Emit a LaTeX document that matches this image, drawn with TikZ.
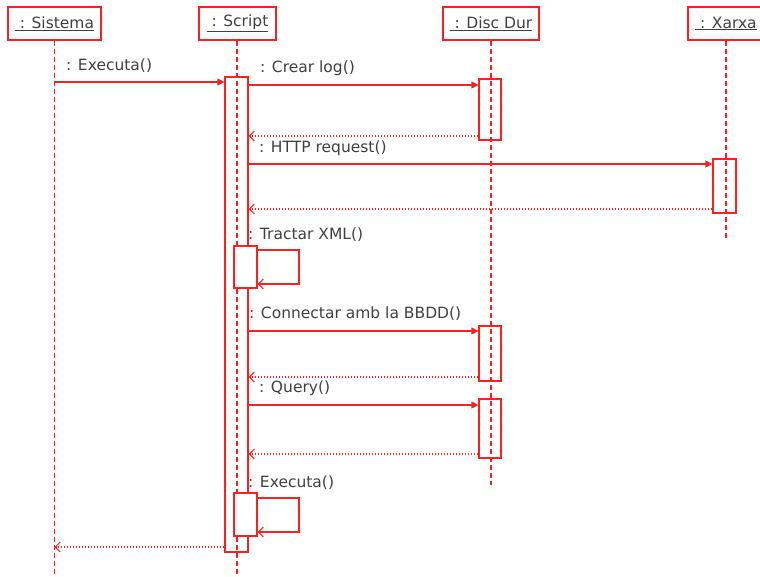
\documentclass[tikz,border=0pt]{standalone}
\usepackage{fontspec}
\setmainfont{DejaVu Sans}
\usetikzlibrary{arrows.meta}
\definecolor{umlred}{RGB}{255,30,30}
\definecolor{umltext}{RGB}{64,64,64}
\begin{document}
\begin{tikzpicture}[x=1pt,y=-1pt,font=\fontsize{15.5}{18}\selectfont,
  obj/.style={draw=umlred,line width=1.2pt,minimum height=33pt,inner sep=0pt,text=umltext},
  life/.style={umlred,line width=1.3pt,dash pattern=on 5pt off 3pt},
  act/.style={draw=umlred,line width=1.2pt,minimum width=23pt,inner sep=0pt},
  call/.style={umlred,line width=1.2pt,-{Triangle[length=7pt,width=7pt]}},
  ret/.style={umlred,line width=1.2pt,dash pattern=on 1.5pt off 1.5pt,-{Straight Barb[length=5pt,width=10pt,line width=1pt]}},
  self/.style={umlred,line width=1.2pt,-{Straight Barb[length=5pt,width=10pt,line width=1pt]}},
  msg/.style={anchor=base west,inner sep=0pt,text=umltext}]
  \useasboundingbox (0,0) rectangle (760,576);
  % objects
  \node[obj,minimum width=93pt](sis) at (54.5,23.5){\underline{~: Sistema}};
  \node[obj,minimum width=77pt](scr) at (237.5,23.5){\underline{~: Script}};
  \node[obj,minimum width=96pt](dd) at (491,23.5){\underline{~: Disc Dur}};
  \node[obj,minimum width=76pt](xa) at (726,23.5){\underline{~: Xarxa}};
  % lifelines
  \coordinate (sisEnd) at (54.5,576);\coordinate (scrEnd) at (237,576);
  \coordinate (ddEnd) at (491,485);\coordinate (xaEnd) at (726,240);
  \draw[life](sis.south)--(sisEnd);\draw[life](scr.south-|scrEnd)--(scrEnd);
  \draw[life](dd.south)--(ddEnd);\draw[life](xa.south)--(xaEnd);
  % activations
  \node[act,minimum height=475pt](scrA) at (236.5,314.5){};
  \node[act,fill=white,minimum height=42pt](scrB) at (245.5,267){};
  \node[act,fill=white,minimum height=43pt](scrC) at (245.5,514.5){};
  \node[act,minimum width=22pt,minimum height=61pt](dd1) at (490,109.5){};
  \node[act,minimum width=22pt,minimum height=55pt](dd2) at (490,353.5){};
  \node[act,minimum width=22pt,minimum height=59pt](dd3) at (490,428.5){};
  \node[act,minimum height=54pt](xa1) at (724.5,186){};
  % message rows
  \coordinate (m1) at (0,82);\coordinate (m2) at (0,85);\coordinate (r2) at (0,136);
  \coordinate (m3) at (0,164);\coordinate (r3) at (0,209);
  \coordinate (m5) at (0,331);\coordinate (r5) at (0,377);
  \coordinate (m6) at (0,405);\coordinate (r6) at (0,454);\coordinate (r1) at (0,547);
  \coordinate (t1a) at (299,250);\coordinate (t1b) at (299,284);
  \coordinate (t2a) at (299,498);\coordinate (t2b) at (299,532);
  % messages
  \draw[call](sis|-m1)--(scrA.west|-m1);
  \draw[call](scrA.east|-m2)--(dd1.west|-m2);
  \draw[ret](dd1.west|-r2)--(scrA.east|-r2);
  \draw[call](scrA.east|-m3)--(xa1.west|-m3);
  \draw[ret](xa1.west|-r3)--(scrA.east|-r3);
  \draw[self](scrB.east|-t1a)--(t1a)--(t1b)--(scrB.east|-t1b);
  \draw[call](scrA.east|-m5)--(dd2.west|-m5);
  \draw[ret](dd2.west|-r5)--(scrA.east|-r5);
  \draw[call](scrA.east|-m6)--(dd3.west|-m6);
  \draw[ret](dd3.west|-r6)--(scrA.east|-r6);
  \draw[self](scrC.east|-t2a)--(t2a)--(t2b)--(scrC.east|-t2b);
  \draw[ret](scrA.west|-r1)--(sis|-r1);
  % labels
  \node[msg](l1) at (66,70){: Executa()};
  \node[msg](l2) at (260,72){: Crear log()};
  \node[msg](l3) at (259,152){: HTTP request()};
  \node[msg](l4) at (248,239){: Tractar XML()};
  \node[msg](l5) at (249,318){: Connectar amb la BBDD()};
  \node[msg](l6) at (259,392){: Query()};
  \node[msg](l7) at (248,487){: Executa()};
\end{tikzpicture}
\end{document}
